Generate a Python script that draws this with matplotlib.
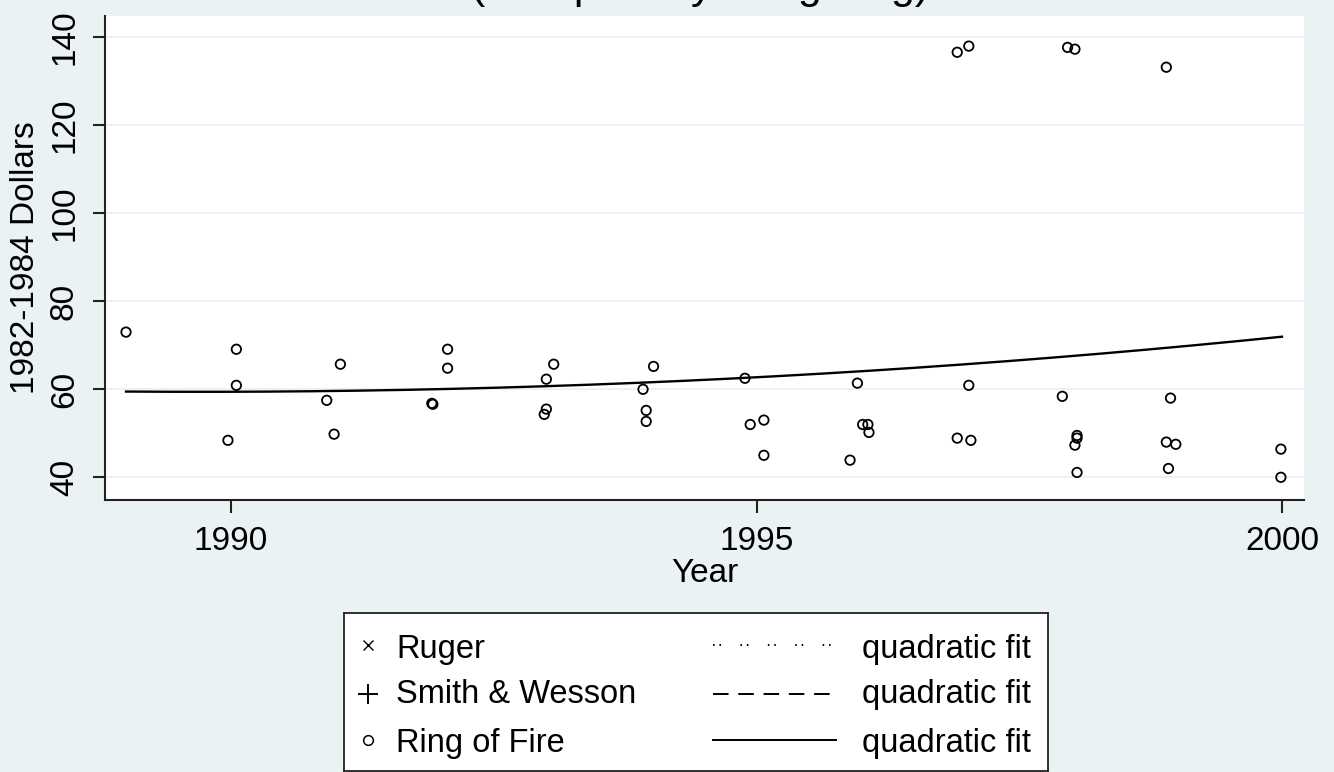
import numpy as np
import matplotlib
matplotlib.use("Agg")
import matplotlib.pyplot as plt

plt.rcParams['font.family'] = ['Liberation Sans', 'DejaVu Sans']

# ---- Data (Ring of Fire) ----
rof_year = [1989.00, 1989.97, 1990.05, 1990.05, 1990.91, 1990.98, 1991.04,
            1991.91, 1991.92, 1992.06, 1992.06, 1992.98, 1993.00, 1993.00, 1993.07,
            1993.92, 1993.95, 1993.95, 1994.02, 1994.89, 1994.94, 1995.07, 1995.07,
            1995.89, 1995.96, 1996.01, 1996.06, 1996.07,
            1996.91, 1997.02, 1996.91, 1997.04, 1997.02,
            1997.96, 1998.03, 1997.91, 1998.05, 1998.05, 1998.03, 1998.05,
            1998.90, 1998.94, 1998.90, 1998.99, 1998.92,
            1999.99, 1999.99]
rof_price = [73.0, 48.4, 69.1, 60.9, 57.5, 49.8, 65.7,
             56.8, 56.6, 69.1, 64.8, 54.3, 55.5, 62.3, 65.7,
             60.0, 55.2, 52.7, 65.2, 62.5, 52.0, 53.0, 45.0,
             43.9, 61.4, 52.0, 52.0, 50.2,
             136.6, 138.0, 48.9, 48.4, 60.9,
             137.7, 137.3, 58.4, 49.5, 48.9, 47.3, 41.1,
             133.2, 58.0, 48.0, 47.5, 42.0,
             46.4, 40.0]

# Quadratic-fit line
fit_year = [1989.0, 1991.4, 1993.0, 1994.9, 1997.2, 1998.5, 2000.0]
fit_val = [59.45, 59.8, 60.8, 62.5, 66.1, 68.5, 72.0]

x_ticks = [1990, 1995, 2000]
y_ticks = [40, 60, 80, 100, 120, 140]
series_labels = ["Ruger", "Smith & Wesson", "Ring of Fire"]
fit_label = "quadratic fit"
title_text = "(Sampled by Weighting)"
x_title = "Year"
y_title = "1982-1984 Dollars"

BG = "#EAF2F3"
W, H = 1334, 772
FS = 24

fig = plt.figure(figsize=(W / 100, H / 100), dpi=100, facecolor=BG)

# Main axes
L, R, B, T = 105, 1304, 500, 16
ax = fig.add_axes([L / W, 1 - B / H, (R - L) / W, (B - T) / H])
ax.set_facecolor("white")
ax.set_xlim(1988.80, 2000.21)
ax.set_ylim(34.84, 144.84)

for yv in y_ticks:
    ax.axhline(yv, color=BG, lw=1.5, zorder=0)

# Smooth quadratic through the read fit values
coef = np.polyfit(fit_year, fit_val, 2)
xf = np.linspace(fit_year[0], fit_year[-1], 200)
ax.plot(xf, np.polyval(coef, xf), color="black", lw=1.7, zorder=2)

ax.scatter(rof_year, rof_price, s=46, facecolors="none", edgecolors="black",
           linewidths=1.3, zorder=3)

for s in ["top", "right"]:
    ax.spines[s].set_visible(False)
for s in ["left", "bottom"]:
    ax.spines[s].set_linewidth(1.5)
    ax.spines[s].set_color("#222222")

ax.set_xticks(x_ticks)
ax.set_xticklabels([str(v) for v in x_ticks])
ax.set_yticks(y_ticks)
ax.set_yticklabels([str(v) for v in y_ticks], rotation=90, va="center")
ax.tick_params(axis="both", length=9, width=1.5, color="#222222", labelsize=FS)
ax.tick_params(axis="x", pad=10)
ax.tick_params(axis="y", pad=9)

ax.set_xlabel(x_title, fontsize=FS)
ax.xaxis.set_label_coords(0.5, -0.12)
ax.set_ylabel(y_title, fontsize=FS)
ax.yaxis.set_label_coords(-0.053, 0.5)

# Title (cut off at the top of the picture, as in the reference)
fig.text(471 / W, 1 + 2.0 / H, title_text, fontsize=31, ha="left", va="baseline")

# Legend box
LX0, LX1, LY0, LY1 = 344, 1048, 613, 771
lax = fig.add_axes([LX0 / W, 1 - LY1 / H, (LX1 - LX0) / W, (LY1 - LY0) / H])
lax.set_xlim(0, LX1 - LX0)
lax.set_ylim(LY1 - LY0, 0)
lax.set_facecolor("white")
lax.set_xticks([])
lax.set_yticks([])
for s in lax.spines.values():
    s.set_linewidth(1.3)
    s.set_color("#222222")

mark_rows = [32, 81, 127]
text_rows = [45, 90, 139]
markers = [("x", 7, 1.0), ("+", 15, 1.4), ("o", 7, 1.1)]
styles = [(0, (0.8, 2.5, 0.8, 10)), (0, (8, 5)), "-"]
for my, ty, lab, (mk, ms, mw), ls in zip(mark_rows, text_rows, series_labels,
                                         markers, styles):
    lax.plot([24], [my], marker=mk, ms=ms, mew=mw, mfc="none", mec="black",
             ls="none")
    lax.text(52, ty, lab, fontsize=23.5, va="baseline", ha="left")
    lax.plot([369, 492], [my, my], color="black", lw=1.4, ls=ls)
    lax.text(518, ty, fit_label, fontsize=23.5, va="baseline", ha="left")

fig.savefig("out.png", dpi=100, facecolor=BG)
